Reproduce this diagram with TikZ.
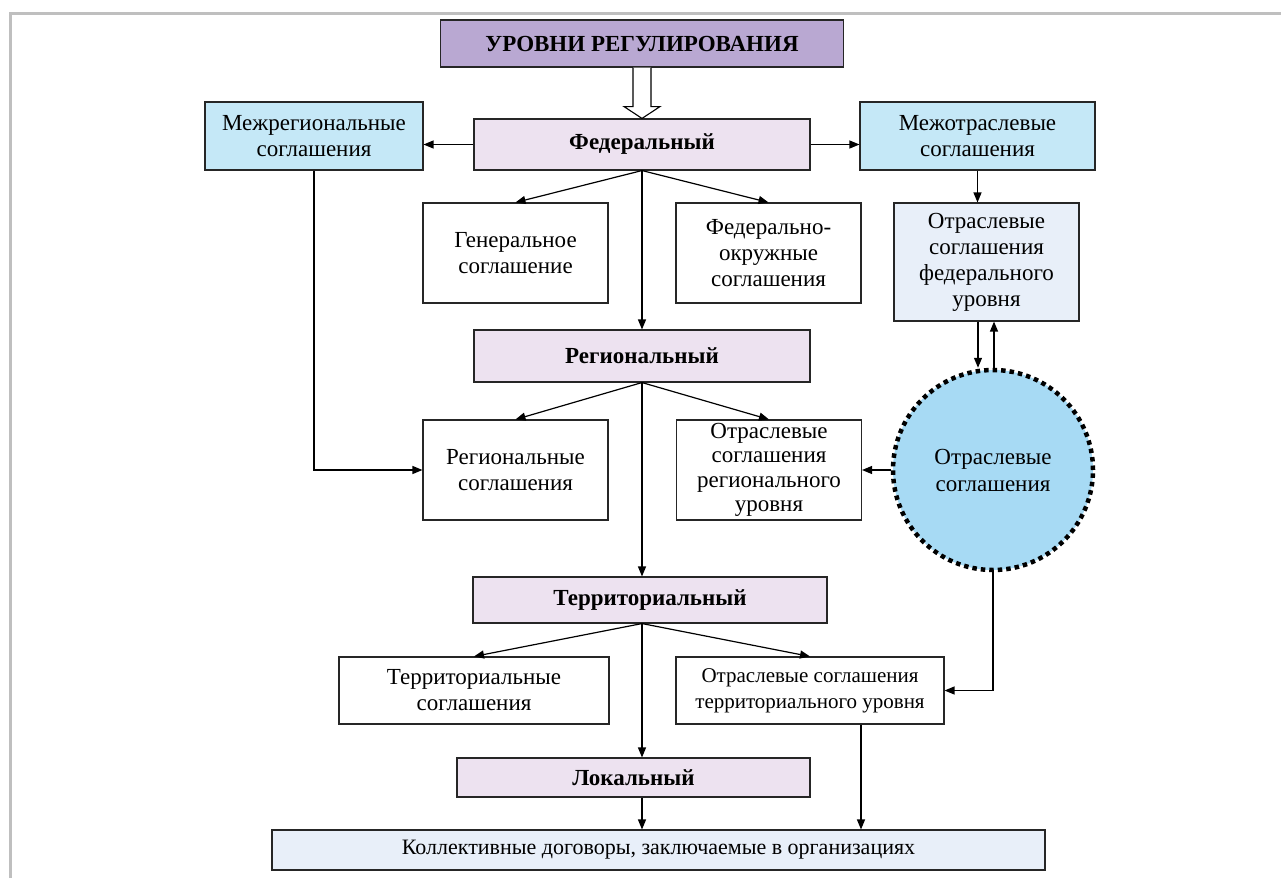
\documentclass[tikz,border=0pt]{standalone}
\usepackage{fontspec}
\setmainfont{Liberation Serif}
\usetikzlibrary{arrows.meta,calc,positioning}
\definecolor{lilac}{HTML}{B9A8D2}
\definecolor{pale}{HTML}{EDE2F0}
\definecolor{skyblue}{HTML}{C5E8F7}
\definecolor{iceblue}{HTML}{E8EFF9}
\definecolor{circblue}{HTML}{A7DAF4}
\definecolor{framegray}{HTML}{BFBFBF}

\begin{document}
\begin{tikzpicture}[x=1pt, y=-1pt,
  base/.style={draw=black!85, line width=1.1pt, align=center, inner sep=1pt,
    font=\fontsize{23}{26}\selectfont},
  levelbox/.style={base, fill=pale, minimum width=336pt, minimum height=51pt,
    font=\fontsize{23}{26}\selectfont\bfseries},
  agreebox/.style={base, fill=white, minimum width=185pt, minimum height=100pt},
  interbox/.style={base, fill=skyblue, minimum height=68pt},
  arrow/.style={-{Triangle[length=10pt,width=8pt]}, line width=1.2pt},
  hollow/.style={line width=1.1pt, fill=white}
]
\useasboundingbox (0,0) rectangle (1281,878);
\draw[framegray, line width=3pt] (10,878) -- (10,13) -- (1281,13);

% levels
\node[base, fill=lilac, minimum width=403pt, minimum height=47pt,
  font=\fontsize{23}{26}\selectfont\bfseries] (title) at (642,43.5) {УРОВНИ РЕГУЛИРОВАНИЯ};
\node[levelbox] (fed) at (642,144.5) {Федеральный};
\node[levelbox, minimum height=52pt] (reg) at (642,356) {Региональный};
\node[levelbox, minimum width=354pt, minimum height=46pt] (terr) at (650,600) {Территориальный};
\node[levelbox, minimum width=353pt, minimum height=39pt] (lok) at (633.5,777.5) {Локальный};

% agreements
\node[interbox, minimum width=218pt] (mezhreg) at (314,136) {Межрегиональные\\соглашения};
\node[interbox, minimum width=235pt] (mezhotr) at (977.5,136) {Межотраслевые\\соглашения};
\node[agreebox] (gen) at (515.5,253) {Генеральное\\соглашение};
\node[agreebox] (fedokr) at (768.5,253) {Федерально-\\окружные\\соглашения};
\node[agreebox, fill=iceblue, minimum height=118pt] (otrfed) at (986.5,262)
  {Отраслевые\\соглашения\\федерального\\уровня};
\node[agreebox] (regsogl) at (515.5,470) {Региональные\\соглашения};
\node[agreebox, font=\fontsize{23}{24.5}\selectfont] (otrreg) at (769,470)
  {Отраслевые\\соглашения\\регионального\\уровня};
\node[circle, minimum size=200pt, fill=circblue, draw=black, line width=4.5pt,
  dash pattern=on 4.5pt off 4pt, font=\fontsize{23}{27}\selectfont, align=center]
  (circ) at (993,470) {Отраслевые\\соглашения};
\node[agreebox, minimum width=270pt, minimum height=67pt] (terrsogl) at (474,690.5)
  {Территориальные\\соглашения};
\node[agreebox, minimum width=268pt, minimum height=67pt,
  font=\fontsize{21}{26}\selectfont] (otrterr) at (810,690.5)
  {Отраслевые соглашения\\территориального уровня};
\node[base, fill=iceblue, minimum width=773pt, minimum height=40pt,
  font=\fontsize{22}{26}\selectfont] (koll) at (658.5,850)
  {Коллективные договоры, заключаемые в организациях};

% connectors
\draw[hollow] ($(title.south)+(-9,0)$) -- ($(title.south)+(-9,39)$)
  -- ($(title.south)+(-18,39)$) -- (fed.north) -- ($(title.south)+(18,39)$)
  -- ($(title.south)+(9,39)$) -- ($(title.south)+(9,0)$);
\draw[arrow] (fed.west) -- (fed.west -| mezhreg.east);
\draw[arrow] (fed.east) -- (fed.east -| mezhotr.west);
\draw[arrow] (fed.south) -- (gen.north);
\draw[arrow] (fed.south) -- (fedokr.north);
\draw[arrow] (fed.south) -- (reg.north);
\draw[arrow] (mezhotr.south) -- (mezhotr.south |- otrfed.north);
\draw[arrow] ([xshift=-8.5pt]otrfed.south) -- ([xshift=-8.5pt]otrfed.south |- circ.north);
\draw[arrow] ([xshift=7.5pt]otrfed.south |- circ.north) -- ([xshift=7.5pt]otrfed.south);
\draw[arrow] (mezhreg.south) |- (regsogl.west);
\draw[arrow] (circ.west) -- (circ.west -| otrreg.east);
\draw[arrow] (reg.south) -- (regsogl.north);
\draw[arrow] (reg.south) -- (otrreg.north);
\draw[arrow] (reg.south) -- (reg.south |- terr.north);
\draw[arrow] (terr.south -| reg.south) -- (terrsogl.north);
\draw[arrow] (terr.south -| reg.south) -- (otrterr.north);
\draw[arrow] (terr.south -| reg.south) -- (lok.north -| reg.south);
\draw[arrow] (circ.south) |- (otrterr.east);
\draw[arrow] (lok.south -| reg.south) -- (koll.north -| reg.south);
\draw[arrow] ([xshift=51pt]otrterr.south) -- ([xshift=51pt]otrterr.south |- koll.north);
\end{tikzpicture}
\end{document}
